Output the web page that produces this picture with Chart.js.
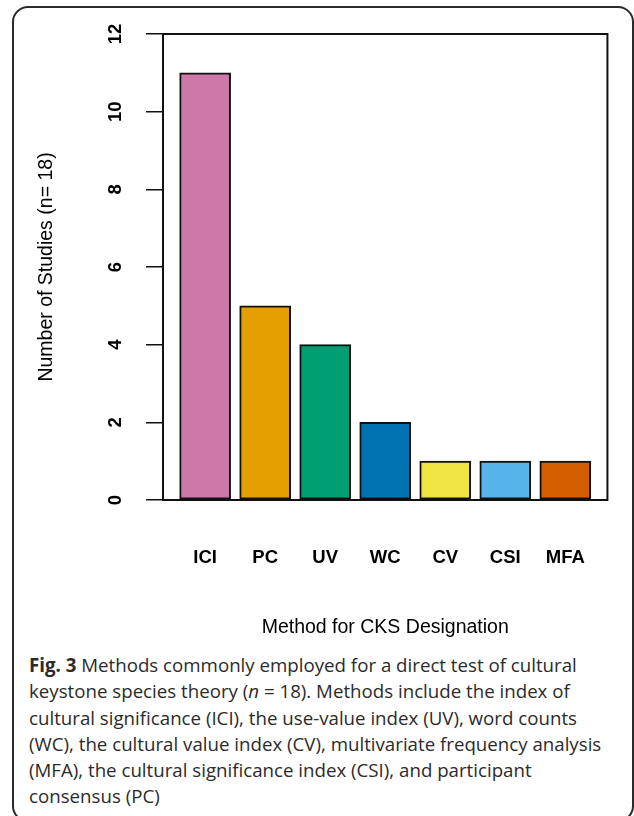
<!DOCTYPE html>
<html>
<head>
<meta charset="utf-8">
<script src="https://cdn.jsdelivr.net/npm/chart.js@4.4.1/dist/chart.umd.min.js"></script>
<style>
  html, body { margin: 0; padding: 0; background: #fff; overflow: hidden; }
  body { width: 634px; height: 816px; position: relative; }
  #frame {
    position: absolute; left: 12px; top: 6px; width: 622px; height: 816px;
    border: 2px solid #2a2a2a; border-radius: 16px; box-sizing: border-box;
  }
  #chart { position: absolute; left: 0; top: 0; }
  #caption {
    position: absolute; left: 29px; top: 652px; width: 600px;
    font-family: "Open Sans", "Noto Sans", sans-serif; font-size: 18.7px;
    line-height: 26.3px; color: #2b2b2b; white-space: nowrap;
  }
  #caption b { font-weight: 700; }
</style>
</head>
<body>
<div id="frame"></div>
<canvas id="chart" width="634" height="650"></canvas>
<div id="caption">
  <b>Fig. 3</b> Methods commonly employed for a direct test of cultural<br>
  keystone species theory (<i>n</i> = 18). Methods include the index of<br>
  cultural significance (ICI), the use-value index (UV), word counts<br>
  (WC), the cultural value index (CV), multivariate frequency analysis<br>
  (MFA), the cultural significance index (CSI), and participant<br>
  consensus (PC)
</div>
<script>
// data
const methods = ["ICI", "PC", "UV", "WC", "CV", "CSI", "MFA"];
const studies = [11, 5, 4, 2, 1, 1, 1];
const barColors = ["#CC79A7", "#E69F00", "#009E73", "#0072B2", "#F0E442", "#56B4E9", "#D55E00"];
const yTicks = [0, 2, 4, 6, 8, 10, 12];

const font = '"Liberation Sans", Arial, Helvetica, sans-serif';

// draws the closed box around the plot region, like R's box()
const boxPlugin = {
  id: "box",
  afterDatasetsDraw(chart) {
    const { ctx, chartArea } = chart;
    ctx.save();
    ctx.strokeStyle = "#111";
    ctx.lineWidth = 2;
    ctx.strokeRect(chartArea.left, chartArea.top, chartArea.right - chartArea.left, chartArea.bottom - chartArea.top);
    ctx.restore();
  }
};

const ctx = document.getElementById("chart").getContext("2d");
new Chart(ctx, {
  type: "bar",
  data: {
    datasets: [
      {
        label: "Number of Studies",
        data: studies.map((v, i) => ({ x: i, y: v })),
        backgroundColor: barColors,
        borderColor: "#111",
        borderWidth: 2,
        borderSkipped: false,
        barThickness: 51,
      },
    ],
  },
  options: {
    responsive: false,
    animation: false,
    layout: { padding: { top: 34, right: 23, left: 0, bottom: 0 } },
    plugins: { legend: { display: false }, tooltip: { enabled: false } },
    scales: {
      x: {
        type: "linear",
        min: -0.702,
        max: methods.length - 1 + 0.702,
        offset: false,
        grid: { display: false, drawTicks: false },
        border: { display: false },
        afterBuildTicks: (scale) => {
          scale.ticks = methods.map((m, i) => ({ value: i }));
        },
        afterFit: (scale) => {
          scale.height = 150;
        },
        ticks: {
          padding: 47,
          color: "#000",
          font: { family: font, size: 18.5, weight: "bold" },
          callback: (v) => methods[v],
          maxRotation: 0,
          autoSkip: false,
        },
        title: {
          display: true,
          text: "Method for CKS Designation",
          color: "#000",
          font: { family: font, size: 19.5 },
          padding: { top: 0, bottom: 10.3 },
        },
      },
      y: {
        min: 0,
        max: 12,
        afterBuildTicks: (scale) => {
          scale.ticks = yTicks.map((v) => ({ value: v }));
        },
        afterFit: (scale) => {
          scale.width = 163;
        },
        grid: { display: true, drawOnChartArea: false, drawTicks: true, tickLength: 17, color: "#111", lineWidth: 1.5 },
        border: { display: false },
        ticks: {
          minRotation: 90,
          maxRotation: 90,
          crossAlign: "center",
          padding: 20,
          color: "#000",
          font: { family: font, size: 18.5, weight: "bold" },
        },
        title: {
          display: true,
          text: "Number of Studies (n= 18)",
          color: "#000",
          font: { family: font, size: 19.5 },
          padding: { top: 34.5, bottom: 0 },
        },
      },
    },
  },
  plugins: [boxPlugin],
});
</script>
</body>
</html>
